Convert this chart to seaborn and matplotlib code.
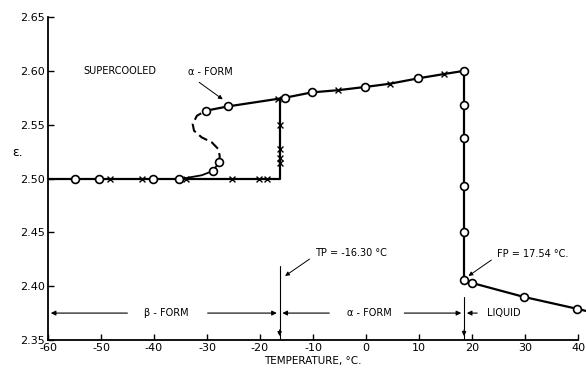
import matplotlib
matplotlib.use('Agg')

import numpy as np
import pandas as pd
import matplotlib.pyplot as plt
import seaborn as sns

# ---- data (temperature in deg C, dielectric constant eps) ----
beta_line_t = [-60, -16.3, -16.3]
beta_line_e = [2.500, 2.500, 2.574]
beta_o_t = [-55.0, -50.3, -40.2, -35.2]
beta_o_e = [2.500, 2.500, 2.500, 2.500]
beta_x_t = [-48.3, -42.2, -34.0, -25.3, -20.2, -18.7, -16.3, -16.3, -16.3, -16.3]
beta_x_e = [2.500, 2.500, 2.500, 2.500, 2.500, 2.500, 2.550, 2.527, 2.519, 2.514]

alpha_t = [-30.2, -26.0, -16.6, -15.3, -10.2, -5.3, -0.2, 4.5, 9.8, 14.7, 18.5]
alpha_e = [2.563, 2.567, 2.574, 2.575, 2.580, 2.582, 2.585, 2.588, 2.593, 2.597, 2.600]
alpha_mark = ['o', 'o', 'x', 'o', 'o', 'x', 'o', 'x', 'o', 'x', 'o']

melt_t = [18.5, 18.5, 18.5, 18.5, 18.5, 18.5]
melt_e = [2.600, 2.568, 2.538, 2.493, 2.450, 2.406]

liquid_t = [18.5, 20.0, 29.8, 39.8, 41.5]
liquid_e = [2.406, 2.403, 2.390, 2.379, 2.377]

super_solid_t = [-34.5, -31.0, -28.9, -27.7]
super_solid_e = [2.500, 2.503, 2.507, 2.515]
super_o_t = [-28.9, -27.7]
super_o_e = [2.507, 2.515]
super_dash_t = [-27.7, -27.6, -27.9, -29.1, -31.0, -32.45, -32.7, -31.9, -30.2]
super_dash_e = [2.515, 2.521, 2.5275, 2.5336, 2.5382, 2.5444, 2.5506, 2.5583, 2.563]

tp_t = -16.3
fp_t = 18.5
x_ticks = [-60, -50, -40, -30, -20, -10, 0, 10, 20, 30, 40]
y_ticks = [2.35, 2.40, 2.45, 2.50, 2.55, 2.60, 2.65]

sns.set_style("ticks")
plt.rcParams['font.family'] = ['DejaVu Sans']
plt.rcParams['axes.unicode_minus'] = False
for k in ('text.color', 'axes.labelcolor', 'xtick.color', 'ytick.color', 'axes.edgecolor'):
    plt.rcParams[k] = 'black'

fig = plt.figure(figsize=(5.86, 3.70), dpi=100)
ax = fig.add_axes([48/586, 30/370, 530/586, 323/370])

lw = 1.6
sns.lineplot(x=beta_line_t, y=beta_line_e, sort=False, estimator=None, color='black', lw=lw, ax=ax)
sns.lineplot(x=alpha_t, y=alpha_e, sort=False, estimator=None, color='black', lw=lw, ax=ax)
sns.lineplot(x=melt_t, y=melt_e, sort=False, estimator=None, color='black', lw=lw, ax=ax)
sns.lineplot(x=liquid_t, y=liquid_e, sort=False, estimator=None, color='black', lw=lw, ax=ax,
             clip_on=False)
sns.lineplot(x=super_solid_t, y=super_solid_e, sort=False, estimator=None, color='black', lw=1.3, ax=ax)
sns.lineplot(x=super_dash_t, y=super_dash_e, sort=False, estimator=None, color='black', lw=1.5,
             linestyle=(0, (4.5, 2.2)), ax=ax)

# markers
circ_t = beta_o_t + [t for t, m in zip(alpha_t, alpha_mark) if m == 'o'] + melt_t[1:] + liquid_t[1:4] + super_o_t
circ_e = beta_o_e + [e for e, m in zip(alpha_e, alpha_mark) if m == 'o'] + melt_e[1:] + liquid_e[1:4] + super_o_e
cross_t = beta_x_t + [t for t, m in zip(alpha_t, alpha_mark) if m == 'x']
cross_e = beta_x_e + [e for e, m in zip(alpha_e, alpha_mark) if m == 'x']

sns.scatterplot(x=circ_t, y=circ_e, marker='o', s=32, facecolor='white', edgecolor='black',
                linewidth=1.2, zorder=4, ax=ax, clip_on=False)
sns.scatterplot(x=cross_t, y=cross_e, marker='x', s=18, color='black', linewidth=1.0,
                zorder=4, ax=ax)

# vertical TP / FP markers
thin = dict(color='black', lw=0.8)
ax.plot([tp_t, tp_t], [2.4185, 2.35], **thin)
ax.plot([fp_t, fp_t], [2.390, 2.35], **thin)
for t in (tp_t, fp_t):
    ax.annotate('', xy=(t, 2.351), xytext=(t, 2.362),
                arrowprops=dict(arrowstyle='-|>', color='black', lw=0.8, mutation_scale=6))

# range arrows along eps = 2.375
yr = 2.375
arr = dict(arrowstyle='-|>', color='black', lw=0.8, mutation_scale=7)
ax.annotate('', xy=(-60, yr), xytext=(-44.5, yr), arrowprops=arr)
ax.annotate('', xy=(tp_t, yr), xytext=(-30.4, yr), arrowprops=arr)
ax.annotate('', xy=(tp_t, yr), xytext=(-6.4, yr), arrowprops=arr)
ax.annotate('', xy=(fp_t, yr), xytext=(6.7, yr), arrowprops=arr)
ax.annotate('', xy=(fp_t, yr), xytext=(21.5, yr), arrowprops=arr)
fs = 7
ax.text(-37.6, yr, '\u03b2 - FORM', ha='center', va='center', fontsize=fs)
ax.text(0.6, yr, '\u03b1 - FORM', ha='center', va='center', fontsize=fs)
ax.text(22.8, yr, 'LIQUID', ha='left', va='center', fontsize=fs)

# labels with leader arrows
ax.text(-53.4, 2.600, 'SUPERCOOLED', ha='left', va='center', fontsize=fs)
lead = dict(arrowstyle='-|>', color='black', lw=0.7, mutation_scale=6)
ax.annotate('\u03b1 - FORM', xy=(-26.6, 2.572), xytext=(-33.6, 2.5985), fontsize=fs,
            ha='left', va='center', arrowprops=dict(lead, relpos=(0.1, 0)))
ax.annotate('TP = -16.30 \u00b0C', xy=(-15.7, 2.408), xytext=(-9.6, 2.4306), fontsize=fs,
            ha='left', va='center', arrowprops=dict(lead, relpos=(0, 0.3)))
ax.annotate('FP = 17.54 \u00b0C.', xy=(18.9, 2.408), xytext=(24.7, 2.4297), fontsize=fs,
            ha='left', va='center', arrowprops=dict(lead, relpos=(0, 0.3)))

ax.text(-65.8, 2.524, '\u03b5.', ha='center', va='center', fontsize=9, clip_on=False)

ax.set_xlim(-60, 40)
ax.set_ylim(2.35, 2.65)
ax.set_xticks(x_ticks)
ax.set_yticks(y_ticks)
ax.set_yticklabels(['%.2f' % v for v in y_ticks])
ax.tick_params(axis='both', direction='in', length=4, width=1, labelsize=8, pad=2.5, color='black')
ax.set_xlabel('TEMPERATURE, \u00b0C.', fontsize=7.5, labelpad=2)
ax.set_ylabel('')
sns.despine(ax=ax)
for s in ('left', 'bottom'):
    ax.spines[s].set_linewidth(1.3)
    ax.spines[s].set_color('black')

fig.savefig('out.png', dpi=100)
